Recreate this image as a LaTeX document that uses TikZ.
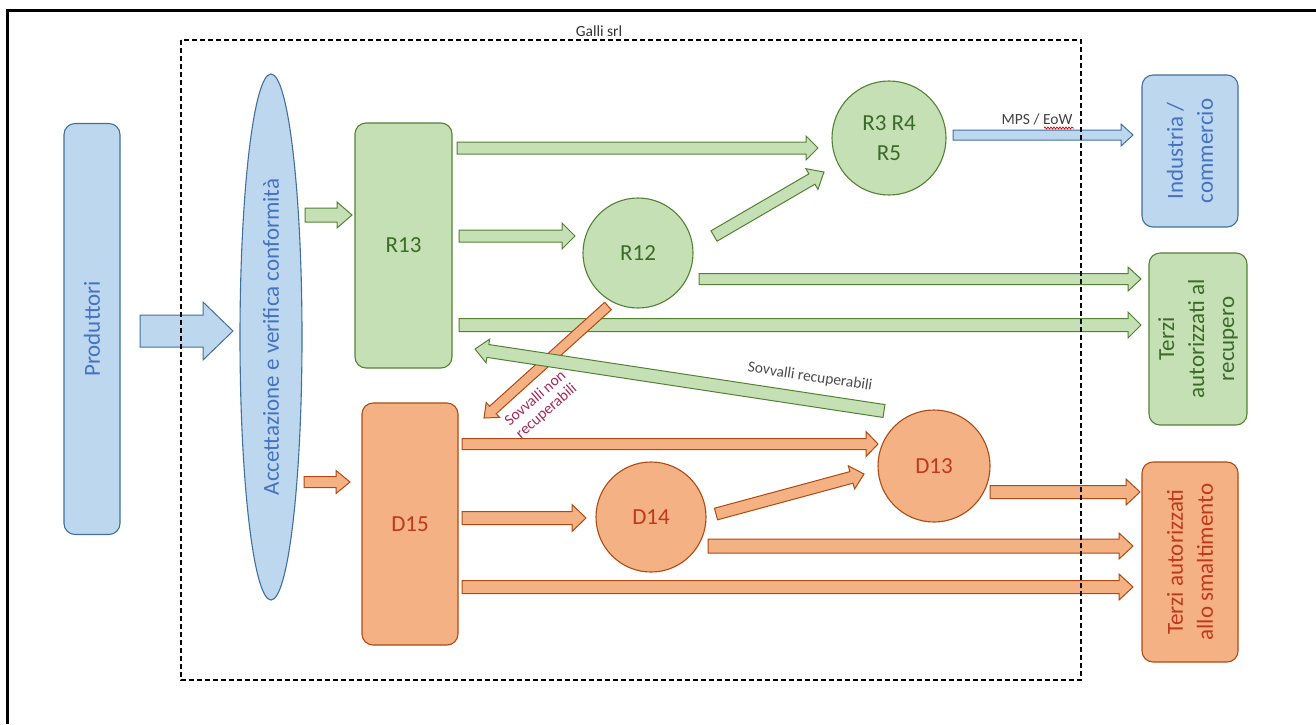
\documentclass[tikz,border=0pt]{standalone}
\usepackage{fontspec}
\setmainfont{Carlito}
\usetikzlibrary{calc,shapes.geometric,decorations.pathmorphing}

\definecolor{bfill}{HTML}{BDD7EE}
\definecolor{bdraw}{HTML}{41719C}
\definecolor{btext}{HTML}{4472C4}
\definecolor{gfill}{HTML}{C5E0B4}
\definecolor{gdraw}{HTML}{548235}
\definecolor{gtext}{HTML}{3B6B28}
\definecolor{ofill}{HTML}{F4B183}
\definecolor{odraw}{HTML}{B04A12}
\definecolor{otext}{HTML}{C0391B}
\definecolor{sovtext}{HTML}{A52A5A}

\newcommand{\blockarr}[6]{%
  \path (#2) coordinate (ba-s) (#3) coordinate (ba-e);
  \path ($(ba-e)!#6pt!(ba-s)$) coordinate (ba-h);
  \draw[#1] ($(ba-s)!#4pt!90:(ba-e)$) -- ($(ba-h)!#4pt!90:(ba-e)$) -- ($(ba-h)!#5pt!90:(ba-e)$) -- (ba-e) -- ($(ba-h)!#5pt!-90:(ba-e)$) -- ($(ba-h)!#4pt!-90:(ba-e)$) -- ($(ba-s)!#4pt!-90:(ba-e)$) -- cycle;
}

\tikzset{
  bigfont/.style={font=\fontsize{23}{30}\selectfont},
  smallfont/.style={font=\fontsize{15.5}{17}\selectfont},
  bluebox/.style={draw=bdraw, fill=bfill, line width=1.1pt, rounded corners=11pt, text=btext, align=center, inner sep=0pt, bigfont},
  greenbox/.style={draw=gdraw, fill=gfill, line width=1.1pt, rounded corners=11pt, text=gtext, align=center, inner sep=0pt, bigfont},
  orangebox/.style={draw=odraw, fill=ofill, line width=1.1pt, rounded corners=11pt, text=otext, align=center, inner sep=0pt, bigfont},
  gcirc/.style={circle, draw=gdraw, fill=gfill, line width=1.1pt, text=gtext, align=center, inner sep=0pt, bigfont},
  ocirc/.style={circle, draw=odraw, fill=ofill, line width=1.1pt, text=otext, align=center, inner sep=0pt, bigfont},
  garrow/.style={draw=gdraw, fill=gfill, line width=1pt},
  oarrow/.style={draw=odraw, fill=ofill, line width=1pt},
  barrowst/.style={draw=bdraw, fill=bfill, line width=1pt},
}

\begin{document}
\begin{tikzpicture}[x=1pt,y=-1pt]
\useasboundingbox (0,0) rectangle (1316,724);
\fill[white] (0,0) rectangle (1316,724);

% nodes
\node[bluebox, rotate=90, minimum width=411pt, minimum height=56pt] (prod) at (92,329) {Produttori};
\node[ellipse, draw=bdraw, fill=bfill, line width=1.1pt, text=btext, bigfont, rotate=90, minimum width=526pt, minimum height=62pt, inner sep=0pt] (acc) at (271,337) {Accettazione e verifica conformità};
\node[greenbox, minimum width=97pt, minimum height=245pt] (r13) at (403.5,245.5) {R13};
\node[orangebox, minimum width=96pt, minimum height=242pt] (d15) at (410,524) {D15};
\node[gcirc, minimum size=110pt] (r12) at (638,253) {R12};
\node[gcirc, minimum size=114pt] (r345) at (889,138) {R3 R4\\R5};
\node[ocirc, minimum size=110pt] (d14) at (651,517) {D14};
\node[ocirc, minimum size=112pt] (d13) at (934,466) {D13};
\node[bluebox, rotate=90, minimum width=152pt, minimum height=96pt] (ind) at (1190,151) {Industria /\\commercio};
\node[greenbox, rotate=90, minimum width=172pt, minimum height=98pt] (trec) at (1198,339) {Terzi\\autorizzati al\\recupero};
\node[orangebox, rotate=90, minimum width=200pt, minimum height=96pt] (tsm) at (1190,562) {Terzi autorizzati\\allo smaltimento};

% connector end points
\coordinate (bAs) at (140,331);  \coordinate (bAe) at (233,331);
\coordinate (gSs) at (305,215);  \coordinate (gSe) at (352,215);
\coordinate (oSs) at (304,482);  \coordinate (oSe) at (350,482);
\coordinate (g1s) at (457,148);  \coordinate (g1e) at (818,148);
\coordinate (g2s) at (459,236);  \coordinate (g2e) at (575,236);
\coordinate (g3s) at (714,236);  \coordinate (g3e) at (824,172);
\coordinate (g4s) at (699,279);  \coordinate (g4e) at (1141,279);
\coordinate (g5s) at (459,325);  \coordinate (g5e) at (1141,325);
\coordinate (g6s) at (884,411);  \coordinate (g6e) at (475,349);
\coordinate (odS) at (608,306);  \coordinate (odE) at (484,418);
\coordinate (mS) at (953,135);   \coordinate (mE) at (1133,135);
\coordinate (o1s) at (462,444);  \coordinate (o1e) at (878,444);
\coordinate (o2s) at (462,518);  \coordinate (o2e) at (586,518);
\coordinate (o3s) at (716,514);  \coordinate (o3e) at (864,474);
\coordinate (o4s) at (990,492);  \coordinate (o4e) at (1140,492);
\coordinate (o5s) at (708,546);  \coordinate (o5e) at (1133,546);
\coordinate (o6s) at (462,587);  \coordinate (o6e) at (1133,587);

% connectors
\blockarr{barrowst}{bAs}{bAe}{16}{29}{30}
\blockarr{garrow}{gSs}{gSe}{7}{13}{15}
\blockarr{oarrow}{oSs}{oSe}{5.5}{11.5}{14}
\blockarr{garrow}{g1s}{g1e}{6}{12}{12}
\blockarr{garrow}{g2s}{g2e}{6}{13}{13}
\blockarr{garrow}{g3s}{g3e}{6}{12}{14}
\blockarr{garrow}{g4s}{g4e}{5.5}{12}{13}
\blockarr{garrow}{g5s}{g5e}{6.5}{13}{13}
\blockarr{barrowst}{mS}{mE}{5}{11}{12}
\blockarr{oarrow}{o1s}{o1e}{5.5}{12.5}{12}
\blockarr{oarrow}{o2s}{o2e}{6.5}{13.5}{14}
\blockarr{oarrow}{o3s}{o3e}{6}{12}{13}
\blockarr{oarrow}{o4s}{o4e}{6.5}{13}{14}
\blockarr{oarrow}{o5s}{o5e}{7}{13}{14}
\blockarr{oarrow}{o6s}{o6e}{6.5}{13}{14}
\blockarr{oarrow}{odS}{odE}{5}{10}{12}
\blockarr{garrow}{g6s}{g6e}{6.5}{12}{13}

% labels
\node[smallfont, text=black!75] (mps) at (1037,119) {MPS / EoW};
\draw[red!85!black, line width=0.7pt, decorate, decoration={snake, amplitude=1pt, segment length=3pt}] (1044,128) -- (1074,128);
\node[smallfont, text=black!70, rotate=-8.6] (sovr) at (810,377) {Sovvalli recuperabili};
\node[smallfont, text=sovtext, rotate=41, align=center] (sovn) at (541,405) {Sovvalli non\\recuperabili};

% company boundary
\draw[line width=1.2pt, dash pattern=on 5pt off 3pt] (181,40) rectangle (1081,680);
\node[smallfont, text=black!80] (galli) at (599,31) {Galli srl};

% frame
\draw[line width=3pt] (7,724) -- (7,10) -- (1316,10);
\end{tikzpicture}
\end{document}
